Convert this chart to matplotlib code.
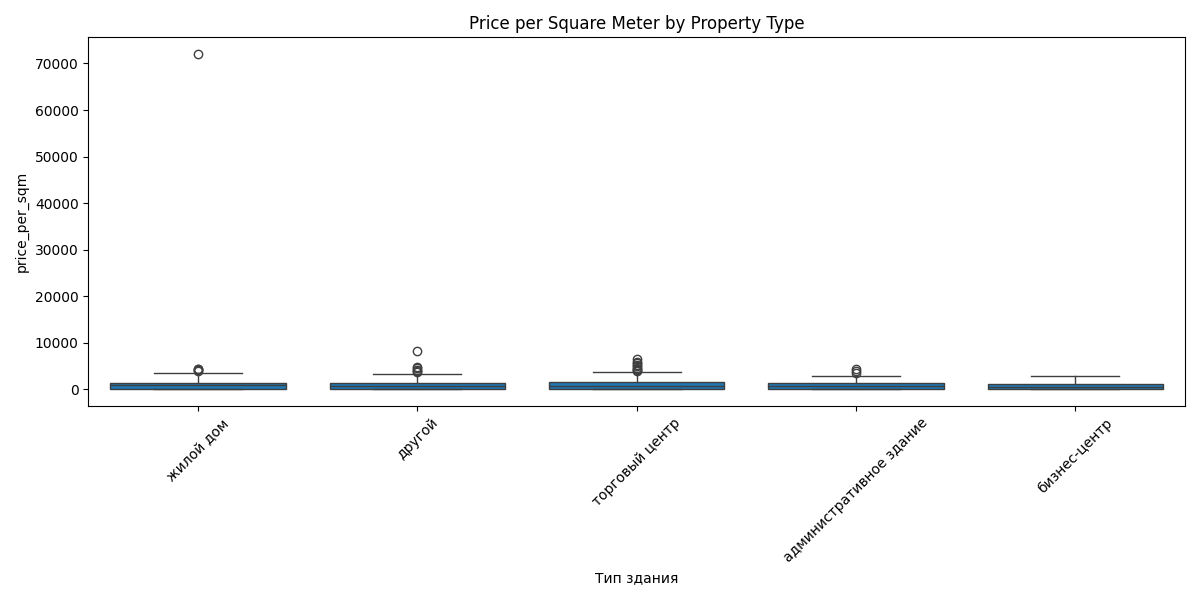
import matplotlib
matplotlib.use("Agg")
import matplotlib.pyplot as plt

# Summary stats (price per sqm)
categories = ["жилой дом", "другой", "торговый центр", "административное здание", "бизнес-центр"]
q1 = [150, 120, 150, 100, 80]
median = [900, 700, 850, 650, 600]
q3 = [1500, 1400, 1600, 1300, 1150]
whis_lo = [0, 0, 0, 0, 0]
whis_hi = [3500, 3400, 3700, 2900, 2800]
fliers = [
    [3900, 4100, 4300, 4500, 72000],
    [3700, 3900, 4200, 4700, 4900, 8200],
    [3900, 4100, 4400, 4700, 5000, 5300, 5600, 6000, 6500],
    [3600, 4000, 4500],
    [],
]

stats = []
for i, name in enumerate(categories):
    stats.append(dict(label=name, q1=q1[i], med=median[i], q3=q3[i],
                      whislo=whis_lo[i], whishi=whis_hi[i], fliers=fliers[i]))

fig, ax = plt.subplots(figsize=(12, 6), dpi=100)
line = dict(color="#3f3f3f", linewidth=1)
ax.bxp(stats, widths=0.8, patch_artist=True,
       boxprops=dict(facecolor="#1f77b4", edgecolor="#3f3f3f", linewidth=1),
       medianprops=line, whiskerprops=line, capprops=line,
       flierprops=dict(marker="o", markerfacecolor="none", markeredgecolor="#3f3f3f", markersize=6))
ax.set_xticks(range(1, len(categories) + 1))
ax.set_xticklabels(categories, rotation=45)
ax.set_xlim(0.5, len(categories) + 0.5)
ax.set_xlabel("Тип здания")
ax.set_ylabel("price_per_sqm")
ax.set_title("Price per Square Meter by Property Type")
plt.tight_layout()
plt.savefig("out.png")
